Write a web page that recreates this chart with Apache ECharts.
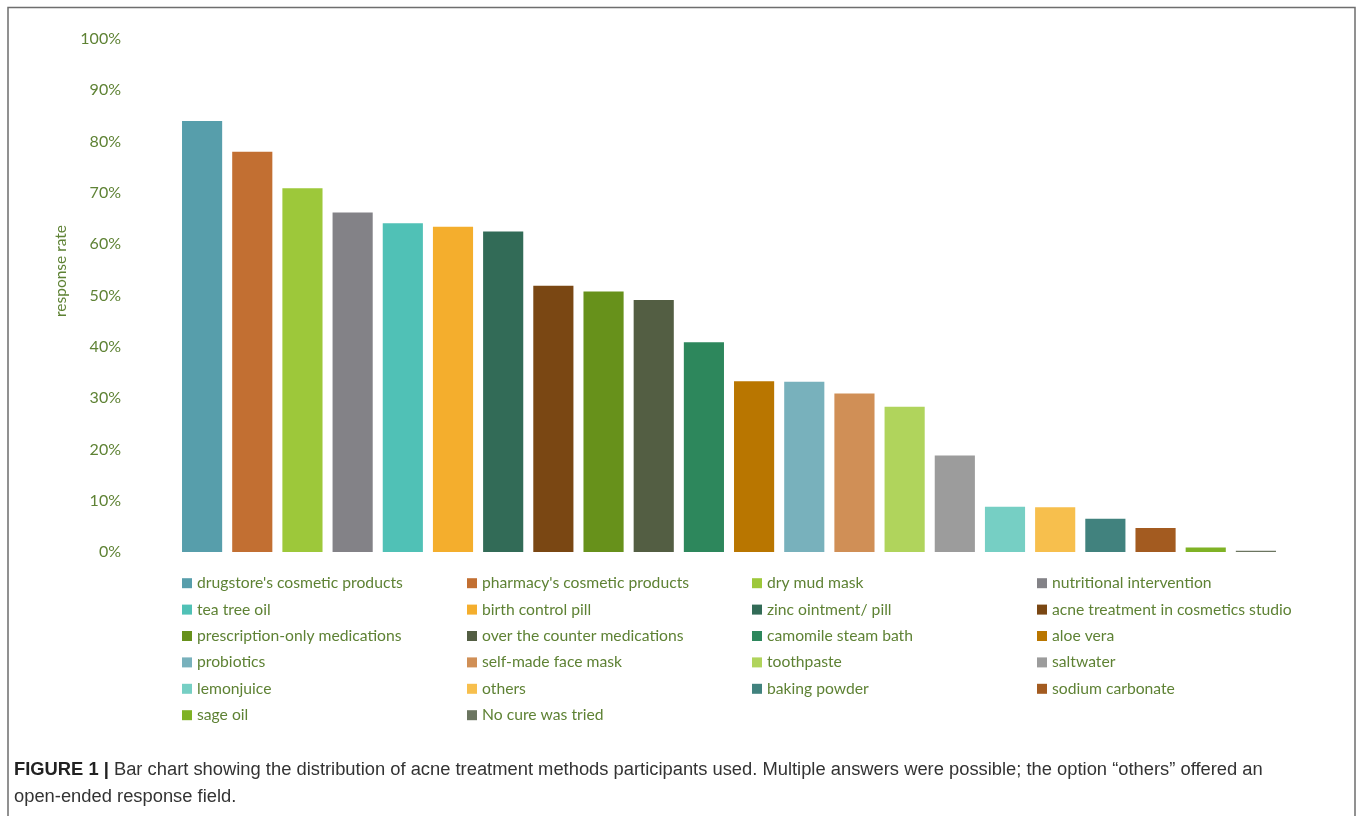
<!DOCTYPE html>
<html>
<head>
<meta charset="utf-8">
<script src="https://cdn.jsdelivr.net/npm/echarts@6/dist/echarts.min.js"></script>
<style>
html,body{margin:0;padding:0;background:#fff;}
#chart{width:1357px;height:816px;}
</style>
</head>
<body>
<div id="chart"></div>
<script>
const categories = [
  "drugstore's cosmetic products", "pharmacy's cosmetic products", "dry mud mask", "nutritional intervention",
  "tea tree oil", "birth control pill", "zinc ointment/ pill", "acne treatment in cosmetics studio",
  "prescription-only medications", "over the counter medications", "camomile steam bath", "aloe vera",
  "probiotics", "self-made face mask", "toothpaste", "saltwater",
  "lemonjuice", "others", "baking powder", "sodium carbonate",
  "sage oil", "No cure was tried"
];
const values = [84.0, 78.0, 70.9, 66.2, 64.1, 63.4, 62.5, 51.9, 50.8, 49.1, 40.9, 33.3, 33.2, 30.9, 28.3, 18.8, 8.8, 8.7, 6.5, 4.7, 0.9, 0.25];
const colors = [
  "#579EAB", "#C26F32", "#9DC83A", "#838287",
  "#50C1B6", "#F4AE2D", "#326B57", "#7A4713",
  "#67911B", "#535E43", "#2D875C", "#B97600",
  "#78B1BC", "#D08F56", "#B0D45C", "#9C9C9C",
  "#76CFC4", "#F7BF4D", "#41827E", "#A35B20",
  "#7FB225", "#6B7560"
];
const yTicks = [0, 10, 20, 30, 40, 50, 60, 70, 80, 90, 100];
const captionBold = "FIGURE 1 |";
const captionText = " Bar chart showing the distribution of acne treatment methods participants used. Multiple answers were possible; the option \u201cothers\u201d offered an\nopen-ended response field.";

const green = "#5E8234";
const chart = echarts.init(document.getElementById('chart'));

const series = categories.map((name, i) => ({
  name: name,
  type: 'bar',
  barGap: '-100%',
  barCategoryGap: '20%',
  itemStyle: { color: colors[i] },
  data: categories.map((c, j) => (j === i ? values[i] : null))
}));

chart.setOption({
  animation: false,
  backgroundColor: '#fff',
  grid: { left: 177, right: 76, top: 39, bottom: 264, containLabel: false },
  xAxis: {
    type: 'category',
    data: categories,
    axisLine: { show: false },
    axisTick: { show: false },
    axisLabel: { show: false },
    splitLine: { show: false }
  },
  yAxis: {
    type: 'value',
    min: yTicks[0],
    max: yTicks[yTicks.length - 1],
    interval: yTicks[1] - yTicks[0],
    name: 'response rate',
    nameLocation: 'middle',
    nameGap: 99,
    nameRotate: 90,
    nameTextStyle: { color: green, fontFamily: 'Lato', fontSize: 15.5, padding: [0, 0, 0, 49] },
    axisLine: { show: false },
    axisTick: { show: false },
    splitLine: { show: false },
    axisLabel: {
      formatter: '{value}%',
      color: green,
      fontFamily: 'Lato',
      fontSize: 16,
      margin: 56
    }
  },
  legend: {
    data: categories,
    left: 182,
    top: 570,
    width: 1145,
    padding: 0,
    itemGap: 0,
    itemWidth: 10,
    itemHeight: 10,
    itemTextGap: 5,
    icon: 'rect',
    selectedMode: false,
    textStyle: {
      color: green,
      fontFamily: 'Lato',
      fontSize: 15.7,
      width: 270,
      lineHeight: 26.4
    }
  },
  graphic: [
    {
      type: 'polyline',
      silent: true,
      shape: { points: [[8, 820], [8, 7.5], [1355, 7.5], [1355, 820]] },
      style: { stroke: '#6e6e6e', lineWidth: 1.5, fill: null }
    },
    {
      type: 'text',
      left: 14,
      top: 761,
      silent: true,
      style: {
        text: '{b|' + captionBold + '}{n|' + captionText + '}',
        rich: {
          b: { fontFamily: 'Liberation Sans', fontWeight: 'bold', fontSize: 18.35, fill: '#222', lineHeight: 27 },
          n: { fontFamily: 'Liberation Sans', fontSize: 18.35, fill: '#333', lineHeight: 27 }
        }
      }
    }
  ],
  series: series
});
</script>
</body>
</html>
